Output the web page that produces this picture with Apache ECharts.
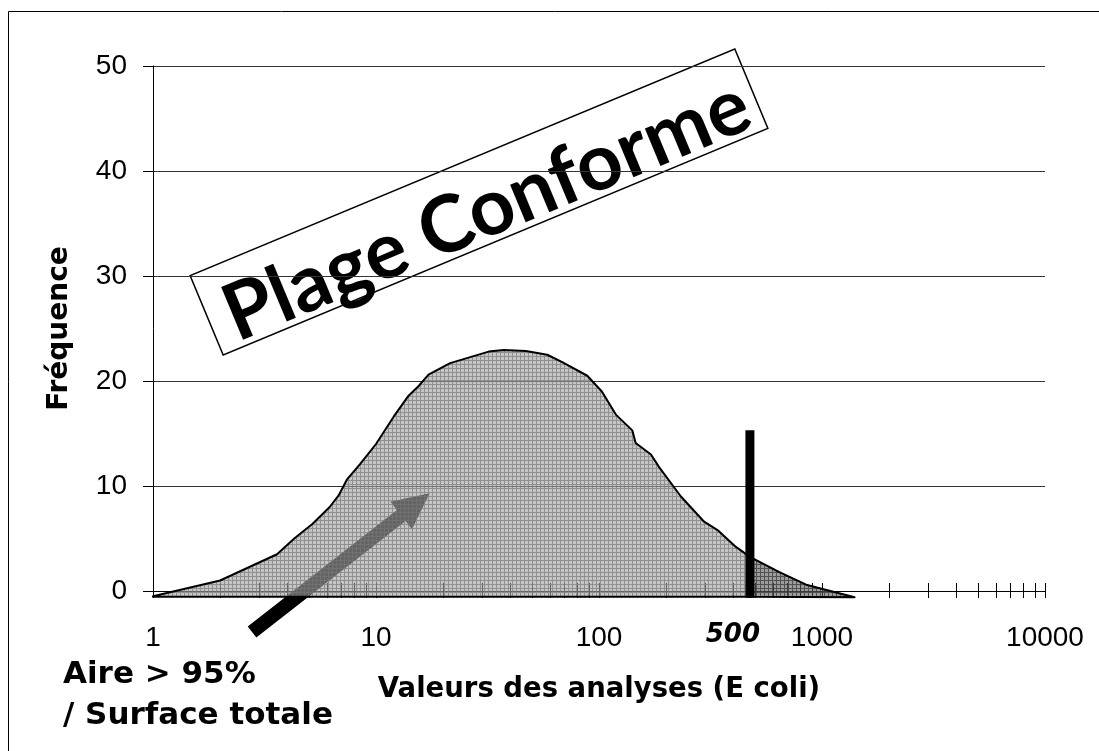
<!DOCTYPE html>
<html><head><meta charset="utf-8">
<script src="https://cdn.jsdelivr.net/npm/echarts@6/dist/echarts.min.js"></script>
<style>html,body{margin:0;padding:0;background:#fff}#c{width:1099px;height:751px}</style>
</head><body><div id="c"></div>
<script>
// ---- data ----
const curveX = [1, 2, 3.6, 4.3, 5.2, 6.2, 6.8, 7.4, 8.5, 10, 12, 14, 15.5, 17.2, 21.5, 32, 37.4, 47, 58.6, 68.4, 88.6, 103, 119, 141, 146, 171, 186, 233, 296, 340, 411, 475, 644, 849, 1400];
const curveY = [-0.5, 1.0, 3.5, 5.0, 6.4, 8.0, 9.1, 10.6, 12.1, 14.0, 16.6, 18.6, 19.5, 20.6, 21.7, 22.8, 22.95, 22.85, 22.5, 21.8, 20.5, 19.0, 16.8, 15.3, 14.1, 13.0, 11.8, 9.0, 6.6, 5.8, 4.2, 3.25, 1.8, 0.6, -0.6];
const areaBase = -0.55;
const limitX = 475;          // thick black limit bar
const limitTop = 15.3;
const limitLabel = '500';
const xTickValues = [1,2,3,4,5,6,7,8,9,10,20,30,40,50,60,70,80,90,100,200,300,400,500,600,700,800,900,1000,2000,3000,4000,5000,6000,7000,8000,9000,10000];
const xLabelValues = [1, 10, 100, 1000, 10000];
const yMin = 0, yMax = 50, yStep = 10;
const arrowTail = [2.78, -3.9];
const arrowTip = [17.4, 9.3];
const boxText = 'Plage Conforme';
const noteLines = ['Aire > 95%', '/ Surface totale'];

function makePattern(base, line, size) {
  const c = document.createElement('canvas');
  c.width = size; c.height = size;
  const g = c.getContext('2d');
  g.fillStyle = base; g.fillRect(0, 0, size, size);
  g.fillStyle = line; g.fillRect(0, 0, size, 1); g.fillRect(0, 1, 1, size - 1);
  return { image: c, repeat: 'repeat' };
}
const lightFill = makePattern('rgba(162,162,162,0.62)', 'rgba(120,120,120,0.68)', 4);
const darkFill = makePattern('rgba(95,95,95,0.62)', 'rgba(50,50,50,0.7)', 4);

const chart = echarts.init(document.getElementById('c'));
const numFont = 'Liberation Sans, Arial, sans-serif';
const nameFont = 'DejaVu Sans, sans-serif';

const option = {
  animation: false,
  backgroundColor: '#fff',
  grid: { left: 153, right: 54, top: 66, bottom: 160 },
  xAxis: {
    type: 'log', logBase: 10, min: 1, max: 10000,
    axisLine: { show: true, lineStyle: { color: '#000', width: 1 } },
    axisTick: { show: false },
    splitLine: { show: false },
    axisLabel: {
      margin: 33, fontSize: 28, color: '#000', fontFamily: numFont,
      formatter: v => { const r = Math.round(v); return xLabelValues.indexOf(r) >= 0 ? String(r) : ''; }
    },
    name: 'Valeurs des analyses (E coli)', nameLocation: 'middle', nameGap: 85,
    nameTextStyle: { fontFamily: nameFont, fontWeight: 'bold', fontSize: 27.5, color: '#000' }
  },
  yAxis: {
    type: 'value', min: yMin, max: yMax, interval: yStep,
    axisLine: { show: true, lineStyle: { color: '#000', width: 1 } },
    axisTick: { show: true, length: 10, lineStyle: { color: '#000' } },
    splitLine: { show: true, lineStyle: { color: '#333', width: 1 } },
    axisLabel: { margin: 26, fontSize: 28, color: '#000', fontFamily: numFont },
    name: 'Fréquence', nameLocation: 'middle', nameGap: 79, nameRotate: 90,
    nameTextStyle: { fontFamily: nameFont, fontWeight: 'bold', fontSize: 28, color: '#000' }
  },
  series: [
    { // minor/major ticks crossing the x axis
      type: 'custom', coordinateSystem: 'cartesian2d', clip: false, silent: true, z: 1,
      data: xTickValues.map(v => [v, 0]),
      renderItem: (p, api) => {
        const pt = api.coord([api.value(0), 0]);
        const x = Math.round(pt[0]) + 0.5;
        return { type: 'line', shape: { x1: x, y1: pt[1] - 8, x2: x, y2: pt[1] + 7 }, style: { stroke: '#000', lineWidth: 1 } };
      }
    },
    { // arrow annotation
      type: 'custom', coordinateSystem: 'cartesian2d', clip: false, silent: true, z: 1,
      data: [[arrowTail[0], arrowTail[1]]],
      renderItem: (p, api) => {
        const a = api.coord(arrowTail), b = api.coord(arrowTip);
        const dx = b[0] - a[0], dy = b[1] - a[1], L = Math.hypot(dx, dy);
        const ux = dx / L, uy = dy / L, nx = -uy, ny = ux;
        const sh = 7, hh = 17.5, hl = 36;
        const bx = b[0] - ux * hl, by = b[1] - uy * hl;
        const pts = [
          [a[0] + nx * sh, a[1] + ny * sh], [bx + nx * sh, by + ny * sh], [bx + nx * hh, by + ny * hh],
          [b[0], b[1]],
          [bx - nx * hh, by - ny * hh], [bx - nx * sh, by - ny * sh], [a[0] - nx * sh, a[1] - ny * sh]
        ];
        return { type: 'polygon', shape: { points: pts }, style: { fill: '#000', stroke: null } };
      }
    },
    { // distribution area (light part up to the limit, dark beyond)
      type: 'custom', coordinateSystem: 'cartesian2d', clip: false, silent: true, z: 3,
      data: [[1, 0]],
      renderItem: (p, api) => {
        const light = [], dark = [];
        for (let i = 0; i < curveX.length; i++) {
          const pt = api.coord([curveX[i], curveY[i]]);
          if (curveX[i] <= limitX) light.push(pt);
          if (curveX[i] >= limitX) dark.push(pt);
        }
        light.push(api.coord([limitX, areaBase]));
        light.push(api.coord([curveX[0], areaBase]));
        dark.push(api.coord([limitX, areaBase]));
        return { type: 'group', children: [
          { type: 'polygon', shape: { points: light }, style: { fill: lightFill, stroke: '#000', lineWidth: 2, lineJoin: 'round' } },
          { type: 'polygon', shape: { points: dark }, style: { fill: darkFill, stroke: '#000', lineWidth: 2, lineJoin: 'round' } }
        ] };
      }
    },
    { // limit bar + label
      type: 'custom', coordinateSystem: 'cartesian2d', clip: false, silent: true, z: 4,
      data: [[limitX, limitTop]],
      renderItem: (p, api) => {
        const top = api.coord([limitX, limitTop]);
        const bot = api.coord([limitX, areaBase]);
        const zero = api.coord([limitX, 0]);
        return { type: 'group', children: [
          { type: 'rect', shape: { x: top[0] - 4.5, y: top[1], width: 9, height: bot[1] - top[1] + 1 }, style: { fill: '#000' } },
          { type: 'text', x: top[0] - 17, y: zero[1] + 44, style: { text: limitLabel, font: 'italic bold 26px "DejaVu Sans"', fill: '#000', align: 'center', verticalAlign: 'middle' } }
        ] };
      }
    }
  ],
  graphic: [
    { type: 'rect', z: 20, silent: true, shape: { x: 8.5, y: 11.5, width: 1100, height: 760 }, style: { fill: 'none', stroke: '#000', lineWidth: 1 } },
    { type: 'group', x: 479, y: 202, rotation: 22.6 * Math.PI / 180, z: 20, silent: true, children: [
      { type: 'rect', shape: { x: -295, y: -43, width: 590, height: 86 }, style: { fill: 'none', stroke: '#000', lineWidth: 1.5 } },
      { type: 'text', x: 4, y: 11, style: { text: boxText, font: 'bold 79px Lato', fill: '#000', align: 'center', verticalAlign: 'middle' } }
    ] },
    { type: 'text', x: 63, y: 675, z: 20, silent: true, style: { text: noteLines[0], font: 'bold 31px "DejaVu Sans"', fill: '#000', align: 'left', verticalAlign: 'middle' } },
    { type: 'text', x: 63, y: 716, z: 20, silent: true, style: { text: noteLines[1], font: 'bold 31px "DejaVu Sans"', fill: '#000', align: 'left', verticalAlign: 'middle' } }
  ]
};
chart.setOption(option);
</script>
</body></html>
